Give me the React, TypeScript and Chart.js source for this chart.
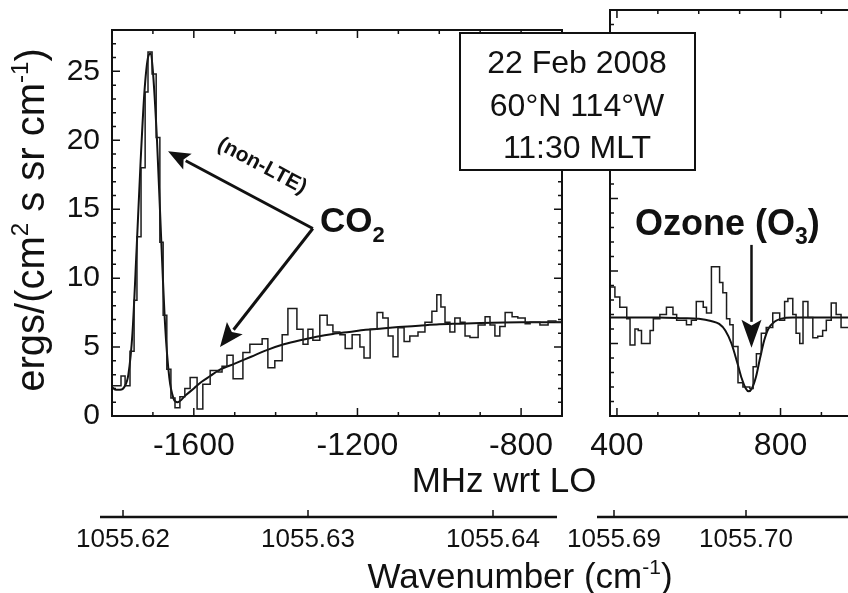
import React, { useEffect, useRef } from 'react';
import { Chart, registerables } from 'chart.js';

Chart.register(...registerables);

const FONT = '"Liberation Sans", Arial, Helvetica, sans-serif';
const INK = '#111111';

// ---------- CO2 panel (MHz wrt LO) ----------
// histogram channel left edges (last entry closes the final channel)
const co2EdgesMHz = [
  -1800, -1778, -1768, -1756, -1746, -1739, -1729, -1719, -1712, -1702,
  -1692, -1683, -1675, -1666, -1656, -1646, -1634, -1622, -1609, -1592,
  -1578, -1560, -1541, -1531, -1519, -1504, -1480, -1463, -1433, -1419,
  -1402, -1384, -1370, -1348, -1333, -1321, -1309, -1292, -1274, -1260,
  -1243, -1230, -1213, -1194, -1184, -1169, -1152, -1138, -1125, -1113,
  -1101, -1086, -1072, -1052, -1035, -1018, -1006, -996, -986, -974,
  -962, -949, -937, -925, -905, -888, -876, -864, -852, -839,
  -822, -808, -790, -778, -754, -734, -715, -700,
];
const co2Radiance = [
  2.2, 2.9, 2.2, 4.7, 8.4, 13.0, 18.0, 23.5, 26.4, 24.8,
  20.2, 12.6, 7.3, 3.4, 1.3, 0.6, 1.4, 2.0, 2.8, 0.5,
  2.3, 3.3, 3.2, 3.6, 4.4, 2.7, 4.6, 5.2, 5.6, 3.5,
  4.0, 5.9, 7.8, 6.3, 5.2, 6.3, 5.5, 7.3, 6.6, 6.1,
  5.9, 4.9, 5.9, 5.0, 4.2, 6.3, 7.5, 7.1, 5.8, 4.3,
  6.4, 5.4, 5.8, 6.1, 6.8, 7.6, 8.8, 7.9, 6.8, 6.1,
  7.1, 6.8, 5.8, 5.7, 6.6, 7.2, 6.6, 5.8, 6.5, 7.5,
  7.2, 7.1, 6.7, 6.8, 6.6, 6.9, 6.8, 6.8,
];
const co2FitMHz = [
  -1800, -1790, -1780, -1770, -1760, -1750, -1740, -1730, -1720, -1710,
  -1705, -1700, -1690, -1680, -1670, -1660, -1650, -1640, -1620, -1600,
  -1580, -1560, -1540, -1500, -1460, -1420, -1380, -1340, -1300, -1260,
  -1220, -1180, -1140, -1100, -1050, -1000, -950, -900, -800, -700,
];
const co2FitRadiance = [
  2.1, 1.9, 1.9, 2.1, 3.0, 6.0, 12.0, 18.5, 23.8, 26.2,
  26.3, 25.0, 20.0, 13.0, 6.5, 2.8, 1.3, 1.0, 1.5, 2.0,
  2.5, 2.9, 3.3, 3.8, 4.3, 4.8, 5.2, 5.5, 5.75, 5.95,
  6.1, 6.25, 6.35, 6.45, 6.55, 6.65, 6.7, 6.75, 6.8, 6.8,
];

// ---------- O3 panel ----------
const o3EdgesMHz = [
  383, 395, 407, 424, 432, 444, 452, 460, 468, 481,
  489, 505, 521, 537, 546, 570, 582, 594, 611, 619,
  631, 651, 659, 668, 676, 684, 696, 708, 725, 733,
  741, 753, 765, 781, 798, 810, 818, 830, 838, 847,
  855, 867, 879, 891, 903, 912, 924, 936, 948, 965,
];
const o3Radiance = [
  8.9, 8.2, 7.5, 6.7, 4.9, 6.0, 5.9, 5.0, 5.0, 5.9,
  6.7, 7.0, 7.5, 7.0, 6.6, 6.3, 6.6, 7.9, 7.5, 7.1,
  10.3, 9.2, 8.5, 6.7, 6.3, 4.8, 2.3, 2.0, 1.9, 3.4,
  4.3, 5.7, 6.1, 7.1, 6.6, 7.9, 8.1, 7.0, 5.7, 5.0,
  7.9, 6.8, 5.4, 5.5, 5.9, 6.6, 7.8, 7.0, 6.1, 6.1,
];
const o3FitMHz = [
  383, 500, 560, 600, 630, 650, 665, 680, 695, 705,
  715, 722, 730, 740, 750, 760, 770, 785, 800, 830, 900, 965,
];
const o3FitRadiance = [
  6.8, 6.8, 6.75, 6.7, 6.55, 6.35, 5.9, 5.0, 3.6, 2.6,
  1.9, 1.7, 1.9, 2.7, 4.0, 5.2, 6.0, 6.5, 6.7, 6.8, 6.8, 6.8,
];

// ---------- axes ----------
const yTicks = [0, 5, 10, 15, 20, 25];
const co2MHzTicks = [-1600, -1200, -800];
const o3MHzTicks = [400, 800];
const co2WaveTicks = [1055.62, 1055.63, 1055.64];
const o3WaveTicks = [1055.69, 1055.7];
const yRange = [0, 28];
const co2MHzRange = [-1800, -700];
const o3MHzRange = [383, 965];
const co2WaveRange = [1055.619405, 1055.64373];
const o3WaveRange = [1055.689697, 1055.707727];

// annotation anchors (data coordinates of the panel they sit in)
const arrowFromCO2 = [-1309, 13.6];
const arrowToNonLTE = [-1663, 19.2];
const arrowToContinuum = [-1536, 5.0];
const ozoneArrowTop = [729, 11.8];
const ozoneArrowTip = [729, 4.7];

type Seg = { t: string; s: number; dy?: number; b?: boolean };

function drawRich(ctx: CanvasRenderingContext2D, segs: Seg[], x: number, y: number, align: 'left' | 'center') {
  ctx.textBaseline = 'alphabetic';
  ctx.textAlign = 'left';
  const widths = segs.map((g) => {
    ctx.font = `${g.b ? 'bold ' : ''}${g.s}px ${FONT}`;
    return ctx.measureText(g.t).width;
  });
  const total = widths.reduce((a, b) => a + b, 0);
  let cx = align === 'center' ? x - total / 2 : x;
  segs.forEach((g, i) => {
    ctx.font = `${g.b ? 'bold ' : ''}${g.s}px ${FONT}`;
    ctx.fillText(g.t, cx, y + (g.dy || 0));
    cx += widths[i];
  });
}

function drawArrow(ctx: CanvasRenderingContext2D, x0: number, y0: number, x1: number, y1: number, head: number, half: number, lw: number) {
  const ang = Math.atan2(y1 - y0, x1 - x0);
  const c = Math.cos(ang), s = Math.sin(ang);
  const bx = x1 - head * c, by = y1 - head * s;
  ctx.lineWidth = lw;
  ctx.beginPath();
  ctx.moveTo(x0, y0);
  ctx.lineTo(bx + 2 * c, by + 2 * s);
  ctx.stroke();
  ctx.beginPath();
  ctx.moveTo(x1, y1);
  ctx.lineTo(bx + half * s, by - half * c);
  ctx.lineTo(bx + head * 0.2 * c, by + head * 0.2 * s);
  ctx.lineTo(bx - half * s, by + half * c);
  ctx.closePath();
  ctx.fill();
}

const framePlugin = {
  id: 'frame',
  afterDatasetsDraw(chart: any, _args: any, opts: any) {
    const { ctx, chartArea: a, scales } = chart;
    const xs = scales.x, ys = scales.y, ws = scales.w;
    ctx.save();
    ctx.strokeStyle = INK;
    ctx.lineCap = 'square';
    ctx.lineWidth = 2;
    ctx.beginPath();
    ctx.moveTo(a.left, a.top); ctx.lineTo(a.right, a.top);
    ctx.moveTo(a.left, a.top); ctx.lineTo(a.left, a.bottom);
    ctx.moveTo(a.left, a.bottom); ctx.lineTo(a.right, a.bottom);
    if (opts.right) { ctx.moveTo(a.right, a.top); ctx.lineTo(a.right, a.bottom); }
    ctx.stroke();
    ctx.lineWidth = 1.5;
    ctx.lineCap = 'butt';
    ctx.beginPath();
    const xMinor = 100, xMajor = 400;
    for (let v = Math.ceil(xs.min / xMinor) * xMinor; v <= xs.max; v += xMinor) {
      const p = xs.getPixelForValue(v);
      const len = Math.abs(v % xMajor) < 1e-6 ? 8 : 4;
      ctx.moveTo(p, a.bottom); ctx.lineTo(p, a.bottom - len);
      ctx.moveTo(p, a.top); ctx.lineTo(p, a.top + len);
    }
    for (let v = Math.ceil(ys.min); v <= ys.max; v += 1) {
      const p = ys.getPixelForValue(v);
      const len = v % 5 === 0 ? 8 : 4;
      ctx.moveTo(a.left, p); ctx.lineTo(a.left + len, p);
      if (opts.right) { ctx.moveTo(a.right, p); ctx.lineTo(a.right - len, p); }
    }
    ctx.stroke();
    // wavenumber axis line (sits a little left of the panel)
    ctx.lineWidth = 2.5;
    ctx.beginPath();
    ctx.moveTo(a.left + opts.wFrom, ws.top);
    ctx.lineTo(a.right + opts.wTo, ws.top);
    ctx.stroke();
    ctx.lineWidth = 1.5;
    ctx.beginPath();
    for (const t of ws.ticks) {
      const p = ws.getPixelForValue(t.value);
      ctx.moveTo(p, ws.top); ctx.lineTo(p, ws.top - 7);
    }
    ctx.stroke();
    ctx.restore();
  },
};

const leftAnnot = {
  id: 'leftAnnot',
  afterDraw(chart: any) {
    const { ctx } = chart;
    const xs = chart.scales.x, ys = chart.scales.y;
    ctx.save();
    ctx.fillStyle = INK;
    ctx.strokeStyle = INK;
    // y-axis title
    ctx.save();
    ctx.translate(44, 220);
    ctx.rotate(-Math.PI / 2);
    drawRich(ctx, [
      { t: 'ergs/(cm', s: 40 }, { t: '2', s: 24, dy: -16 },
      { t: ' s sr cm', s: 40 }, { t: '-1', s: 24, dy: -16 }, { t: ')', s: 40 },
    ], 0, 0, 'center');
    ctx.restore();
    // shared axis titles
    drawRich(ctx, [{ t: 'MHz wrt LO', s: 35 }], 504, 492, 'center');
    drawRich(ctx, [{ t: 'Wavenumber (cm', s: 35 }, { t: '-1', s: 21, dy: -14 }, { t: ')', s: 35 }], 520, 588, 'center');
    // CO2 label and arrows
    drawRich(ctx, [{ t: 'CO', s: 35, b: true }, { t: '2', s: 22, b: true, dy: 10 }], 320, 232, 'left');
    const fx = xs.getPixelForValue(arrowFromCO2[0]), fy = ys.getPixelForValue(arrowFromCO2[1]);
    const ax = xs.getPixelForValue(arrowToNonLTE[0]), ay = ys.getPixelForValue(arrowToNonLTE[1]);
    const bx = xs.getPixelForValue(arrowToContinuum[0]), by = ys.getPixelForValue(arrowToContinuum[1]);
    drawArrow(ctx, fx, fy, ax, ay, 22, 9, 3);
    drawArrow(ctx, fx, fy, bx, by, 24, 10, 3);
    ctx.save();
    ctx.translate(262, 166);
    ctx.rotate(Math.atan2(fy - ay, fx - ax));
    ctx.font = `bold 21px ${FONT}`;
    ctx.textAlign = 'center';
    ctx.textBaseline = 'middle';
    ctx.fillText('(non-LTE)', 0, 0);
    ctx.restore();
    ctx.restore();
  },
};

const rightAnnot = {
  id: 'rightAnnot',
  afterDraw(chart: any) {
    const { ctx } = chart;
    const xs = chart.scales.x, ys = chart.scales.y;
    ctx.save();
    ctx.fillStyle = INK;
    ctx.strokeStyle = INK;
    // info box
    ctx.fillStyle = '#ffffff';
    ctx.fillRect(460, 33, 235, 137);
    ctx.lineWidth = 2;
    ctx.strokeRect(460, 33, 235, 137);
    ctx.fillStyle = INK;
    drawRich(ctx, [{ t: '22 Feb 2008', s: 32 }], 577, 73, 'center');
    drawRich(ctx, [{ t: '60°N 114°W', s: 32 }], 577, 116, 'center');
    drawRich(ctx, [{ t: '11:30 MLT', s: 32 }], 577, 158, 'center');
    // ozone label and arrow
    drawRich(ctx, [{ t: 'Ozone (O', s: 36, b: true }, { t: '3', s: 23, b: true, dy: 9 }, { t: ')', s: 36, b: true }], 635, 235, 'left');
    const tx = xs.getPixelForValue(ozoneArrowTop[0]), ty = ys.getPixelForValue(ozoneArrowTop[1]);
    const px = xs.getPixelForValue(ozoneArrowTip[0]), py = ys.getPixelForValue(ozoneArrowTip[1]);
    drawArrow(ctx, tx, ty, px, py, 28, 10, 2.5);
    ctx.restore();
  },
};

function baseScales(mhzRange: number[], mhzTicks: number[], waveRange: number[], waveTicks: number[], showY: boolean) {
  return {
    x: {
      type: 'linear', position: 'bottom', weight: 0,
      min: mhzRange[0], max: mhzRange[1],
      afterFit: (s: any) => { s.height = 101; },
      afterBuildTicks: (s: any) => { s.ticks = mhzTicks.map((v) => ({ value: v })); },
      grid: { display: false, drawTicks: false },
      border: { display: false },
      ticks: {
        font: { family: FONT, size: 32 }, color: INK, padding: 11,
        maxRotation: 0, autoSkip: false, callback: (v: any) => String(v),
      },
    },
    w: {
      type: 'linear', position: 'bottom', weight: 1,
      min: waveRange[0], max: waveRange[1],
      afterFit: (s: any) => { s.height = 76; },
      afterBuildTicks: (s: any) => { s.ticks = waveTicks.map((v) => ({ value: v })); },
      grid: { display: false, drawTicks: false },
      border: { display: false },
      ticks: {
        font: { family: FONT, size: 26 }, color: INK, padding: 7,
        maxRotation: 0, autoSkip: false, callback: (v: any) => Number(v).toFixed(2),
      },
    },
    y: {
      type: 'linear', position: 'left', display: showY,
      min: yRange[0], max: yRange[1],
      afterFit: (s: any) => { s.width = showY ? 112 : 0; },
      afterBuildTicks: (s: any) => { s.ticks = yTicks.map((v) => ({ value: v })); },
      grid: { display: false, drawTicks: false },
      border: { display: false },
      ticks: { font: { family: FONT, size: 30 }, color: INK, padding: 12, callback: (v: any) => String(v) },
    },
  };
}

function datasets(edges: number[], vals: number[], fitX: number[], fitY: number[]) {
  return [
    {
      data: edges.map((x, i) => ({ x, y: vals[i] })),
      stepped: true, borderColor: '#1c1c1c', borderWidth: 1.5, pointRadius: 0, fill: false,
    },
    {
      data: fitX.map((x, i) => ({ x, y: fitY[i] })),
      borderColor: INK, borderWidth: 2, pointRadius: 0, fill: false, cubicInterpolationMode: 'monotone',
    },
  ];
}

export default function App() {
  const leftRef = useRef<HTMLCanvasElement>(null);
  const rightRef = useRef<HTMLCanvasElement>(null);

  useEffect(() => {
    const common = {
      responsive: false, animation: false, events: [],
    };
    const c1 = new Chart(leftRef.current as HTMLCanvasElement, {
      type: 'line',
      data: { datasets: datasets(co2EdgesMHz, co2Radiance, co2FitMHz, co2FitRadiance) as any },
      options: {
        ...common,
        layout: { padding: { left: 0, top: 10, right: 286, bottom: 0 } },
        plugins: { legend: { display: false }, tooltip: { enabled: false }, frame: { right: true, wFrom: -12, wTo: -5 } } as any,
        scales: baseScales(co2MHzRange, co2MHzTicks, co2WaveRange, co2WaveTicks, true) as any,
      } as any,
      plugins: [framePlugin, leftAnnot],
    });
    const c2 = new Chart(rightRef.current as HTMLCanvasElement, {
      type: 'line',
      data: { datasets: datasets(o3EdgesMHz, o3Radiance, o3FitMHz, o3FitRadiance) as any },
      options: {
        ...common,
        layout: { padding: { left: 610, top: 10, right: 0, bottom: 0 } },
        plugins: { legend: { display: false }, tooltip: { enabled: false }, frame: { right: false, wFrom: -13, wTo: 0 } } as any,
        scales: baseScales(o3MHzRange, o3MHzTicks, o3WaveRange, o3WaveTicks, false) as any,
      } as any,
      plugins: [framePlugin, rightAnnot],
    });
    return () => { c1.destroy(); c2.destroy(); };
  }, []);

  return (
    <div style={{ position: 'fixed', left: 0, top: 0, width: 848, height: 593, background: '#ffffff', overflow: 'hidden' }}>
      <canvas ref={leftRef} width={848} height={593} style={{ position: 'absolute', left: 0, top: 0, width: 848, height: 593 }} />
      <canvas ref={rightRef} width={848} height={593} style={{ position: 'absolute', left: 0, top: 0, width: 848, height: 593 }} />
    </div>
  );
}
